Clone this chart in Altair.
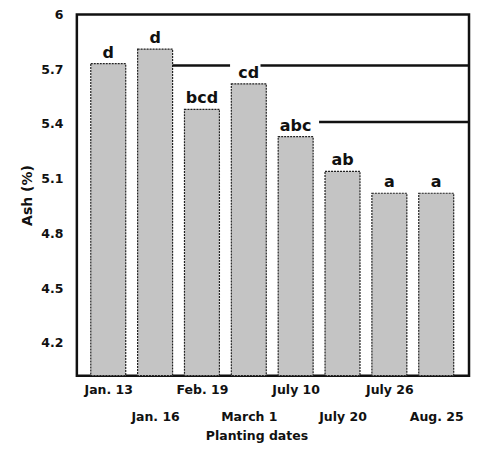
import json
import altair as alt
import pandas as pd

dates = ["Jan. 13", "Jan. 16", "Feb. 19", "March 1", "July 10", "July 20", "July 26", "Aug. 25"]
ash = [5.73, 5.81, 5.48, 5.62, 5.33, 5.14, 5.02, 5.02]
letters = ["d", "d", "bcd", "cd", "abc", "ab", "a", "a"]

# annotation lines: start index position, end index position, y value
line_x1 = [1.37, 3.25, 4.5]
line_x2 = [2.6, 7.70, 7.70]
line_y = [5.72, 5.72, 5.41]

y_ticks = [4.2, 4.5, 4.8, 5.1, 5.4, 5.7, 6.0]
Y_MIN, Y_MAX = 4.02, 6.0
X_MIN, X_MAX = -0.67, 7.70
HALF = 0.373

df = pd.DataFrame({"i": list(range(len(dates))), "date": dates, "ash": ash, "letter": letters})
lines = pd.DataFrame({"x1": line_x1, "x2": line_x2, "y": line_y})

FONT = "DejaVu Sans"
names_js = json.dumps(dates)

xscale = alt.Scale(domain=[X_MIN, X_MAX], nice=False, zero=False)
yscale = alt.Scale(domain=[Y_MIN, Y_MAX], nice=False, zero=False)

xaxis = alt.Axis(
    values=list(range(len(dates))),
    labelExpr=f"datum.value % 2 == 1 ? ['', {names_js}[datum.value]] : {names_js}[datum.value]",
    title="Planting dates",
    ticks=False, domain=False, grid=False,
    labelFont=FONT, labelFontSize=12.5, labelFontWeight="bold", labelColor="#111",
    labelPadding=8, labelLineHeight=27, labelOverlap=False, labelFlush=False,
    labelBaseline="top",
    titleFont=FONT, titleFontSize=12.5, titleFontWeight="bold", titleColor="#111",
    titlePadding=6, titleX=180,
)
yaxis = alt.Axis(
    values=y_ticks,
    labelExpr="datum.value == 6 ? '6' : format(datum.value, '.1f')",
    title="Ash (%)",
    ticks=False, domain=False, grid=False,
    labelFont=FONT, labelFontSize=12.5, labelFontWeight="bold", labelColor="#111",
    labelPadding=14,
    titleFont=FONT, titleFontSize=14, titleFontWeight="bold", titleColor="#111",
    titlePadding=6,
)

base = alt.Chart(df)

bars = base.transform_calculate(
    x0=f"datum.i - {HALF}", x1=f"datum.i + {HALF}", y0=f"{Y_MIN}"
).mark_rect(fill="#c4c4c4", stroke="#222", strokeWidth=1.2, strokeDash=[2, 1]).encode(
    x=alt.X("x0:Q", scale=xscale, axis=xaxis),
    x2="x1:Q",
    y=alt.Y("ash:Q", scale=yscale, axis=yaxis),
    y2="y0:Q",
)

text = base.mark_text(font=FONT, fontSize=16, fontWeight="bold", baseline="bottom", dy=-3, color="#111").encode(
    x=alt.X("i:Q", scale=xscale),
    y=alt.Y("ash:Q", scale=yscale),
    text="letter:N",
)

rules = alt.Chart(lines).mark_rule(color="#111", strokeWidth=2.5).encode(
    x=alt.X("x1:Q", scale=xscale),
    x2="x2:Q",
    y=alt.Y("y:Q", scale=yscale),
)

chart = alt.layer(bars, rules, text).properties(
    width=393, height=362,
    padding={"left": 12, "top": 0, "right": 5, "bottom": 5},
).configure_view(stroke="#111", strokeWidth=2.5)

chart.save("out.html", embed_options={"renderer": "svg", "actions": False})
